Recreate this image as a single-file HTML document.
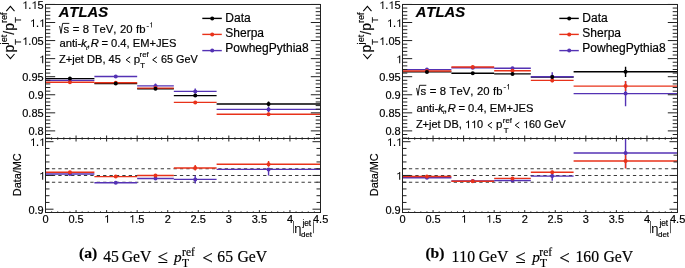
<!DOCTYPE html><html><head><meta charset="utf-8"><style>html,body{margin:0;padding:0;background:#fff;width:685px;height:268px;overflow:hidden}svg{display:block;will-change:transform}text{font-family:"Liberation Sans",sans-serif;font-kerning:none;stroke:#000;stroke-width:0.18px}.sf{font-family:"Liberation Serif",serif}</style></head><body>
<svg width="685" height="268" viewBox="0 0 685 268">
<rect width="685" height="268" fill="#fff"/>
<clipPath id="clipUa"><rect x="45.5" y="4.5" width="275.0" height="134.0"/></clipPath>
<clipPath id="clipLa"><rect x="45.5" y="138.5" width="275.0" height="74.0"/></clipPath>
<line x1="45.50" y1="168.70" x2="320.50" y2="168.70" stroke="#3a3a3a" stroke-width="1.1" stroke-dasharray="3.3 3.1"/>
<line x1="45.50" y1="175.45" x2="320.50" y2="175.45" stroke="#3a3a3a" stroke-width="1.1" stroke-dasharray="3.3 3.1"/>
<line x1="45.50" y1="182.20" x2="320.50" y2="182.20" stroke="#3a3a3a" stroke-width="1.1" stroke-dasharray="3.3 3.1"/>
<g clip-path="url(#clipUa)">
<line x1="45.50" y1="78.60" x2="94.39" y2="78.60" stroke="#000" stroke-width="1.4" />
<line x1="69.94" y1="77.60" x2="69.94" y2="79.60" stroke="#000" stroke-width="1.4" />
<line x1="94.39" y1="83.50" x2="137.17" y2="83.50" stroke="#000" stroke-width="1.4" />
<line x1="115.78" y1="82.50" x2="115.78" y2="84.50" stroke="#000" stroke-width="1.4" />
<line x1="137.17" y1="88.80" x2="173.83" y2="88.80" stroke="#000" stroke-width="1.4" />
<line x1="155.50" y1="87.80" x2="155.50" y2="89.80" stroke="#000" stroke-width="1.4" />
<line x1="173.83" y1="95.60" x2="216.61" y2="95.60" stroke="#000" stroke-width="1.4" />
<line x1="195.22" y1="94.60" x2="195.22" y2="96.60" stroke="#000" stroke-width="1.4" />
<line x1="216.61" y1="104.00" x2="320.50" y2="104.00" stroke="#000" stroke-width="1.4" />
<line x1="268.56" y1="101.50" x2="268.56" y2="106.50" stroke="#000" stroke-width="1.4" />
<line x1="45.50" y1="80.40" x2="94.39" y2="80.40" stroke="#5432b4" stroke-width="1.4" />
<line x1="69.94" y1="79.40" x2="69.94" y2="81.40" stroke="#5432b4" stroke-width="1.4" />
<line x1="94.39" y1="76.50" x2="137.17" y2="76.50" stroke="#5432b4" stroke-width="1.4" />
<line x1="115.78" y1="75.50" x2="115.78" y2="77.50" stroke="#5432b4" stroke-width="1.4" />
<line x1="137.17" y1="85.90" x2="173.83" y2="85.90" stroke="#5432b4" stroke-width="1.4" />
<line x1="155.50" y1="83.40" x2="155.50" y2="86.90" stroke="#5432b4" stroke-width="1.4" />
<line x1="173.83" y1="91.40" x2="216.61" y2="91.40" stroke="#5432b4" stroke-width="1.4" />
<line x1="195.22" y1="88.40" x2="195.22" y2="93.40" stroke="#5432b4" stroke-width="1.4" />
<line x1="216.61" y1="109.40" x2="320.50" y2="109.40" stroke="#5432b4" stroke-width="1.4" />
<line x1="268.56" y1="106.90" x2="268.56" y2="111.90" stroke="#5432b4" stroke-width="1.4" />
<line x1="45.50" y1="82.30" x2="94.39" y2="82.30" stroke="#e8321a" stroke-width="1.4" />
<line x1="69.94" y1="81.30" x2="69.94" y2="83.30" stroke="#e8321a" stroke-width="1.4" />
<line x1="94.39" y1="82.70" x2="137.17" y2="82.70" stroke="#e8321a" stroke-width="1.4" />
<line x1="115.78" y1="81.20" x2="115.78" y2="84.20" stroke="#e8321a" stroke-width="1.4" />
<line x1="137.17" y1="88.10" x2="173.83" y2="88.10" stroke="#e8321a" stroke-width="1.4" />
<line x1="155.50" y1="87.10" x2="155.50" y2="89.10" stroke="#e8321a" stroke-width="1.4" />
<line x1="173.83" y1="102.40" x2="216.61" y2="102.40" stroke="#e8321a" stroke-width="1.4" />
<line x1="195.22" y1="100.90" x2="195.22" y2="103.90" stroke="#e8321a" stroke-width="1.4" />
<line x1="216.61" y1="114.30" x2="320.50" y2="114.30" stroke="#e8321a" stroke-width="1.4" />
<line x1="268.56" y1="112.80" x2="268.56" y2="115.80" stroke="#e8321a" stroke-width="1.4" />
<circle cx="69.94" cy="80.40" r="2.0" fill="#5432b4"/>
<circle cx="115.78" cy="76.50" r="2.0" fill="#5432b4"/>
<circle cx="155.50" cy="85.90" r="2.0" fill="#5432b4"/>
<circle cx="195.22" cy="91.40" r="2.0" fill="#5432b4"/>
<circle cx="268.56" cy="109.40" r="2.0" fill="#5432b4"/>
<circle cx="69.94" cy="82.30" r="2.0" fill="#e8321a"/>
<circle cx="115.78" cy="82.70" r="2.0" fill="#e8321a"/>
<circle cx="155.50" cy="88.10" r="2.0" fill="#e8321a"/>
<circle cx="195.22" cy="102.40" r="2.0" fill="#e8321a"/>
<circle cx="268.56" cy="114.30" r="2.0" fill="#e8321a"/>
<circle cx="69.94" cy="78.60" r="2.0" fill="#000"/>
<circle cx="115.78" cy="83.50" r="2.0" fill="#000"/>
<circle cx="155.50" cy="88.80" r="2.0" fill="#000"/>
<circle cx="195.22" cy="95.60" r="2.0" fill="#000"/>
<circle cx="268.56" cy="104.00" r="2.0" fill="#000"/>
</g>
<g clip-path="url(#clipLa)">
<line x1="45.50" y1="174.00" x2="94.39" y2="174.00" stroke="#5432b4" stroke-width="1.4" />
<line x1="69.94" y1="173.00" x2="69.94" y2="175.00" stroke="#5432b4" stroke-width="1.4" />
<line x1="94.39" y1="182.70" x2="137.17" y2="182.70" stroke="#5432b4" stroke-width="1.4" />
<line x1="115.78" y1="181.70" x2="115.78" y2="183.70" stroke="#5432b4" stroke-width="1.4" />
<line x1="137.17" y1="178.50" x2="173.83" y2="178.50" stroke="#5432b4" stroke-width="1.4" />
<line x1="155.50" y1="177.00" x2="155.50" y2="180.00" stroke="#5432b4" stroke-width="1.4" />
<line x1="173.83" y1="179.40" x2="216.61" y2="179.40" stroke="#5432b4" stroke-width="1.4" />
<line x1="195.22" y1="175.40" x2="195.22" y2="183.40" stroke="#5432b4" stroke-width="1.4" />
<line x1="216.61" y1="169.40" x2="320.50" y2="169.40" stroke="#5432b4" stroke-width="1.4" />
<line x1="268.56" y1="167.90" x2="268.56" y2="175.40" stroke="#5432b4" stroke-width="1.4" />
<line x1="45.50" y1="172.30" x2="94.39" y2="172.30" stroke="#e8321a" stroke-width="1.4" />
<line x1="69.94" y1="171.30" x2="69.94" y2="173.30" stroke="#e8321a" stroke-width="1.4" />
<line x1="94.39" y1="176.60" x2="137.17" y2="176.60" stroke="#e8321a" stroke-width="1.4" />
<line x1="115.78" y1="175.60" x2="115.78" y2="177.60" stroke="#e8321a" stroke-width="1.4" />
<line x1="137.17" y1="175.50" x2="173.83" y2="175.50" stroke="#e8321a" stroke-width="1.4" />
<line x1="155.50" y1="174.00" x2="155.50" y2="177.00" stroke="#e8321a" stroke-width="1.4" />
<line x1="173.83" y1="168.00" x2="216.61" y2="168.00" stroke="#e8321a" stroke-width="1.4" />
<line x1="195.22" y1="165.00" x2="195.22" y2="170.50" stroke="#e8321a" stroke-width="1.4" />
<line x1="216.61" y1="164.30" x2="320.50" y2="164.30" stroke="#e8321a" stroke-width="1.4" />
<line x1="268.56" y1="161.10" x2="268.56" y2="166.80" stroke="#e8321a" stroke-width="1.4" />
<circle cx="69.94" cy="174.00" r="2.0" fill="#5432b4"/>
<circle cx="115.78" cy="182.70" r="2.0" fill="#5432b4"/>
<circle cx="155.50" cy="178.50" r="2.0" fill="#5432b4"/>
<circle cx="195.22" cy="179.40" r="2.0" fill="#5432b4"/>
<circle cx="268.56" cy="169.40" r="2.0" fill="#5432b4"/>
<circle cx="69.94" cy="172.30" r="2.0" fill="#e8321a"/>
<circle cx="115.78" cy="176.60" r="2.0" fill="#e8321a"/>
<circle cx="155.50" cy="175.50" r="2.0" fill="#e8321a"/>
<circle cx="195.22" cy="168.00" r="2.0" fill="#e8321a"/>
<circle cx="268.56" cy="164.30" r="2.0" fill="#e8321a"/>
</g>
<rect x="45.5" y="4.5" width="275.0" height="134.0" fill="none" stroke="#222" stroke-width="1"/>
<rect x="45.5" y="138.5" width="275.0" height="74.0" fill="none" stroke="#222" stroke-width="1"/>
<line x1="45.50" y1="138.12" x2="50.30" y2="138.12" stroke="#222" stroke-width="1" />
<line x1="320.50" y1="138.12" x2="315.70" y2="138.12" stroke="#222" stroke-width="1" />
<line x1="45.50" y1="134.50" x2="50.30" y2="134.50" stroke="#222" stroke-width="1" />
<line x1="320.50" y1="134.50" x2="315.70" y2="134.50" stroke="#222" stroke-width="1" />
<line x1="45.50" y1="130.89" x2="55.20" y2="130.89" stroke="#222" stroke-width="1" />
<line x1="320.50" y1="130.89" x2="310.80" y2="130.89" stroke="#222" stroke-width="1" />
<line x1="45.50" y1="127.28" x2="50.30" y2="127.28" stroke="#222" stroke-width="1" />
<line x1="320.50" y1="127.28" x2="315.70" y2="127.28" stroke="#222" stroke-width="1" />
<line x1="45.50" y1="123.66" x2="50.30" y2="123.66" stroke="#222" stroke-width="1" />
<line x1="320.50" y1="123.66" x2="315.70" y2="123.66" stroke="#222" stroke-width="1" />
<line x1="45.50" y1="120.05" x2="50.30" y2="120.05" stroke="#222" stroke-width="1" />
<line x1="320.50" y1="120.05" x2="315.70" y2="120.05" stroke="#222" stroke-width="1" />
<line x1="45.50" y1="116.44" x2="50.30" y2="116.44" stroke="#222" stroke-width="1" />
<line x1="320.50" y1="116.44" x2="315.70" y2="116.44" stroke="#222" stroke-width="1" />
<line x1="45.50" y1="112.83" x2="55.20" y2="112.83" stroke="#222" stroke-width="1" />
<line x1="320.50" y1="112.83" x2="310.80" y2="112.83" stroke="#222" stroke-width="1" />
<line x1="45.50" y1="109.21" x2="50.30" y2="109.21" stroke="#222" stroke-width="1" />
<line x1="320.50" y1="109.21" x2="315.70" y2="109.21" stroke="#222" stroke-width="1" />
<line x1="45.50" y1="105.60" x2="50.30" y2="105.60" stroke="#222" stroke-width="1" />
<line x1="320.50" y1="105.60" x2="315.70" y2="105.60" stroke="#222" stroke-width="1" />
<line x1="45.50" y1="101.99" x2="50.30" y2="101.99" stroke="#222" stroke-width="1" />
<line x1="320.50" y1="101.99" x2="315.70" y2="101.99" stroke="#222" stroke-width="1" />
<line x1="45.50" y1="98.37" x2="50.30" y2="98.37" stroke="#222" stroke-width="1" />
<line x1="320.50" y1="98.37" x2="315.70" y2="98.37" stroke="#222" stroke-width="1" />
<line x1="45.50" y1="94.76" x2="55.20" y2="94.76" stroke="#222" stroke-width="1" />
<line x1="320.50" y1="94.76" x2="310.80" y2="94.76" stroke="#222" stroke-width="1" />
<line x1="45.50" y1="91.15" x2="50.30" y2="91.15" stroke="#222" stroke-width="1" />
<line x1="320.50" y1="91.15" x2="315.70" y2="91.15" stroke="#222" stroke-width="1" />
<line x1="45.50" y1="87.53" x2="50.30" y2="87.53" stroke="#222" stroke-width="1" />
<line x1="320.50" y1="87.53" x2="315.70" y2="87.53" stroke="#222" stroke-width="1" />
<line x1="45.50" y1="83.92" x2="50.30" y2="83.92" stroke="#222" stroke-width="1" />
<line x1="320.50" y1="83.92" x2="315.70" y2="83.92" stroke="#222" stroke-width="1" />
<line x1="45.50" y1="80.31" x2="50.30" y2="80.31" stroke="#222" stroke-width="1" />
<line x1="320.50" y1="80.31" x2="315.70" y2="80.31" stroke="#222" stroke-width="1" />
<line x1="45.50" y1="76.70" x2="55.20" y2="76.70" stroke="#222" stroke-width="1" />
<line x1="320.50" y1="76.70" x2="310.80" y2="76.70" stroke="#222" stroke-width="1" />
<line x1="45.50" y1="73.08" x2="50.30" y2="73.08" stroke="#222" stroke-width="1" />
<line x1="320.50" y1="73.08" x2="315.70" y2="73.08" stroke="#222" stroke-width="1" />
<line x1="45.50" y1="69.47" x2="50.30" y2="69.47" stroke="#222" stroke-width="1" />
<line x1="320.50" y1="69.47" x2="315.70" y2="69.47" stroke="#222" stroke-width="1" />
<line x1="45.50" y1="65.86" x2="50.30" y2="65.86" stroke="#222" stroke-width="1" />
<line x1="320.50" y1="65.86" x2="315.70" y2="65.86" stroke="#222" stroke-width="1" />
<line x1="45.50" y1="62.24" x2="50.30" y2="62.24" stroke="#222" stroke-width="1" />
<line x1="320.50" y1="62.24" x2="315.70" y2="62.24" stroke="#222" stroke-width="1" />
<line x1="45.50" y1="58.63" x2="55.20" y2="58.63" stroke="#222" stroke-width="1" />
<line x1="320.50" y1="58.63" x2="310.80" y2="58.63" stroke="#222" stroke-width="1" />
<line x1="45.50" y1="55.02" x2="50.30" y2="55.02" stroke="#222" stroke-width="1" />
<line x1="320.50" y1="55.02" x2="315.70" y2="55.02" stroke="#222" stroke-width="1" />
<line x1="45.50" y1="51.40" x2="50.30" y2="51.40" stroke="#222" stroke-width="1" />
<line x1="320.50" y1="51.40" x2="315.70" y2="51.40" stroke="#222" stroke-width="1" />
<line x1="45.50" y1="47.79" x2="50.30" y2="47.79" stroke="#222" stroke-width="1" />
<line x1="320.50" y1="47.79" x2="315.70" y2="47.79" stroke="#222" stroke-width="1" />
<line x1="45.50" y1="44.18" x2="50.30" y2="44.18" stroke="#222" stroke-width="1" />
<line x1="320.50" y1="44.18" x2="315.70" y2="44.18" stroke="#222" stroke-width="1" />
<line x1="45.50" y1="40.57" x2="55.20" y2="40.57" stroke="#222" stroke-width="1" />
<line x1="320.50" y1="40.57" x2="310.80" y2="40.57" stroke="#222" stroke-width="1" />
<line x1="45.50" y1="36.95" x2="50.30" y2="36.95" stroke="#222" stroke-width="1" />
<line x1="320.50" y1="36.95" x2="315.70" y2="36.95" stroke="#222" stroke-width="1" />
<line x1="45.50" y1="33.34" x2="50.30" y2="33.34" stroke="#222" stroke-width="1" />
<line x1="320.50" y1="33.34" x2="315.70" y2="33.34" stroke="#222" stroke-width="1" />
<line x1="45.50" y1="29.73" x2="50.30" y2="29.73" stroke="#222" stroke-width="1" />
<line x1="320.50" y1="29.73" x2="315.70" y2="29.73" stroke="#222" stroke-width="1" />
<line x1="45.50" y1="26.11" x2="50.30" y2="26.11" stroke="#222" stroke-width="1" />
<line x1="320.50" y1="26.11" x2="315.70" y2="26.11" stroke="#222" stroke-width="1" />
<line x1="45.50" y1="22.50" x2="55.20" y2="22.50" stroke="#222" stroke-width="1" />
<line x1="320.50" y1="22.50" x2="310.80" y2="22.50" stroke="#222" stroke-width="1" />
<line x1="45.50" y1="18.89" x2="50.30" y2="18.89" stroke="#222" stroke-width="1" />
<line x1="320.50" y1="18.89" x2="315.70" y2="18.89" stroke="#222" stroke-width="1" />
<line x1="45.50" y1="15.27" x2="50.30" y2="15.27" stroke="#222" stroke-width="1" />
<line x1="320.50" y1="15.27" x2="315.70" y2="15.27" stroke="#222" stroke-width="1" />
<line x1="45.50" y1="11.66" x2="50.30" y2="11.66" stroke="#222" stroke-width="1" />
<line x1="320.50" y1="11.66" x2="315.70" y2="11.66" stroke="#222" stroke-width="1" />
<line x1="45.50" y1="8.05" x2="50.30" y2="8.05" stroke="#222" stroke-width="1" />
<line x1="320.50" y1="8.05" x2="315.70" y2="8.05" stroke="#222" stroke-width="1" />
<line x1="45.50" y1="4.44" x2="55.20" y2="4.44" stroke="#222" stroke-width="1" />
<line x1="320.50" y1="4.44" x2="310.80" y2="4.44" stroke="#222" stroke-width="1" />
<text x="28.39" y="135.39" font-size="11" >0.8</text>
<text x="22.25" y="117.33" font-size="11" >0.85</text>
<text x="28.43" y="99.26" font-size="11" >0.9</text>
<text x="22.25" y="81.20" font-size="11" >0.95</text>
<path d="M0.282,0 L0.373,0 L0.373,0.703 L0.312,0.703 C0.285,0.640 0.215,0.585 0.109,0.560 L0.109,0.482 C0.180,0.497 0.240,0.525 0.282,0.560 Z" transform="translate(39.10,63.13) scale(11,-11)" fill="#000"/>
<path d="M0.282,0 L0.373,0 L0.373,0.703 L0.312,0.703 C0.285,0.640 0.215,0.585 0.109,0.560 L0.109,0.482 C0.180,0.497 0.240,0.525 0.282,0.560 Z" transform="translate(22.25,45.07) scale(11,-11)" fill="#000"/>
<text x="28.37" y="45.07" font-size="11" >.05</text>
<path d="M0.282,0 L0.373,0 L0.373,0.703 L0.312,0.703 C0.285,0.640 0.215,0.585 0.109,0.560 L0.109,0.482 C0.180,0.497 0.240,0.525 0.282,0.560 Z" transform="translate(29.92,27.00) scale(11,-11)" fill="#000"/>
<text x="36.04" y="27.00" font-size="11" >.</text>
<path d="M0.282,0 L0.373,0 L0.373,0.703 L0.312,0.703 C0.285,0.640 0.215,0.585 0.109,0.560 L0.109,0.482 C0.180,0.497 0.240,0.525 0.282,0.560 Z" transform="translate(39.10,27.00) scale(11,-11)" fill="#000"/>
<path d="M0.282,0 L0.373,0 L0.373,0.703 L0.312,0.703 C0.285,0.640 0.215,0.585 0.109,0.560 L0.109,0.482 C0.180,0.497 0.240,0.525 0.282,0.560 Z" transform="translate(22.25,8.94) scale(11,-11)" fill="#000"/>
<text x="28.37" y="8.94" font-size="11" >.</text>
<path d="M0.282,0 L0.373,0 L0.373,0.703 L0.312,0.703 C0.285,0.640 0.215,0.585 0.109,0.560 L0.109,0.482 C0.180,0.497 0.240,0.525 0.282,0.560 Z" transform="translate(31.43,8.94) scale(11,-11)" fill="#000"/>
<text x="37.54" y="8.94" font-size="11" >5</text>
<line x1="45.50" y1="209.20" x2="53.50" y2="209.20" stroke="#222" stroke-width="1" />
<line x1="320.50" y1="209.20" x2="312.50" y2="209.20" stroke="#222" stroke-width="1" />
<line x1="45.50" y1="202.45" x2="49.50" y2="202.45" stroke="#222" stroke-width="1" />
<line x1="320.50" y1="202.45" x2="316.50" y2="202.45" stroke="#222" stroke-width="1" />
<line x1="45.50" y1="195.70" x2="49.50" y2="195.70" stroke="#222" stroke-width="1" />
<line x1="320.50" y1="195.70" x2="316.50" y2="195.70" stroke="#222" stroke-width="1" />
<line x1="45.50" y1="188.95" x2="49.50" y2="188.95" stroke="#222" stroke-width="1" />
<line x1="320.50" y1="188.95" x2="316.50" y2="188.95" stroke="#222" stroke-width="1" />
<line x1="45.50" y1="182.20" x2="49.50" y2="182.20" stroke="#222" stroke-width="1" />
<line x1="320.50" y1="182.20" x2="316.50" y2="182.20" stroke="#222" stroke-width="1" />
<line x1="45.50" y1="175.45" x2="53.50" y2="175.45" stroke="#222" stroke-width="1" />
<line x1="320.50" y1="175.45" x2="312.50" y2="175.45" stroke="#222" stroke-width="1" />
<line x1="45.50" y1="168.70" x2="49.50" y2="168.70" stroke="#222" stroke-width="1" />
<line x1="320.50" y1="168.70" x2="316.50" y2="168.70" stroke="#222" stroke-width="1" />
<line x1="45.50" y1="161.95" x2="49.50" y2="161.95" stroke="#222" stroke-width="1" />
<line x1="320.50" y1="161.95" x2="316.50" y2="161.95" stroke="#222" stroke-width="1" />
<line x1="45.50" y1="155.20" x2="49.50" y2="155.20" stroke="#222" stroke-width="1" />
<line x1="320.50" y1="155.20" x2="316.50" y2="155.20" stroke="#222" stroke-width="1" />
<line x1="45.50" y1="148.45" x2="49.50" y2="148.45" stroke="#222" stroke-width="1" />
<line x1="320.50" y1="148.45" x2="316.50" y2="148.45" stroke="#222" stroke-width="1" />
<line x1="45.50" y1="141.70" x2="53.50" y2="141.70" stroke="#222" stroke-width="1" />
<line x1="320.50" y1="141.70" x2="312.50" y2="141.70" stroke="#222" stroke-width="1" />
<path d="M0.282,0 L0.373,0 L0.373,0.703 L0.312,0.703 C0.285,0.640 0.215,0.585 0.109,0.560 L0.109,0.482 C0.180,0.497 0.240,0.525 0.282,0.560 Z" transform="translate(29.92,146.00) scale(11,-11)" fill="#000"/>
<text x="36.04" y="146.00" font-size="11" >.</text>
<path d="M0.282,0 L0.373,0 L0.373,0.703 L0.312,0.703 C0.285,0.640 0.215,0.585 0.109,0.560 L0.109,0.482 C0.180,0.497 0.240,0.525 0.282,0.560 Z" transform="translate(39.10,146.00) scale(11,-11)" fill="#000"/>
<path d="M0.282,0 L0.373,0 L0.373,0.703 L0.312,0.703 C0.285,0.640 0.215,0.585 0.109,0.560 L0.109,0.482 C0.180,0.497 0.240,0.525 0.282,0.560 Z" transform="translate(39.10,179.75) scale(11,-11)" fill="#000"/>
<text x="28.43" y="213.50" font-size="11" >0.9</text>
<line x1="45.50" y1="135.50" x2="45.50" y2="141.50" stroke="#222" stroke-width="1" />
<line x1="45.50" y1="212.50" x2="45.50" y2="210.10" stroke="#222" stroke-width="1" />
<line x1="51.61" y1="137.30" x2="51.61" y2="139.70" stroke="#222" stroke-width="1" />
<line x1="51.61" y1="212.50" x2="51.61" y2="211.40" stroke="#222" stroke-width="1" />
<line x1="57.72" y1="137.30" x2="57.72" y2="139.70" stroke="#222" stroke-width="1" />
<line x1="57.72" y1="212.50" x2="57.72" y2="211.40" stroke="#222" stroke-width="1" />
<line x1="63.83" y1="137.30" x2="63.83" y2="139.70" stroke="#222" stroke-width="1" />
<line x1="63.83" y1="212.50" x2="63.83" y2="211.40" stroke="#222" stroke-width="1" />
<line x1="69.94" y1="137.30" x2="69.94" y2="139.70" stroke="#222" stroke-width="1" />
<line x1="69.94" y1="212.50" x2="69.94" y2="211.40" stroke="#222" stroke-width="1" />
<line x1="76.06" y1="135.50" x2="76.06" y2="141.50" stroke="#222" stroke-width="1" />
<line x1="76.06" y1="212.50" x2="76.06" y2="210.10" stroke="#222" stroke-width="1" />
<line x1="82.17" y1="137.30" x2="82.17" y2="139.70" stroke="#222" stroke-width="1" />
<line x1="82.17" y1="212.50" x2="82.17" y2="211.40" stroke="#222" stroke-width="1" />
<line x1="88.28" y1="137.30" x2="88.28" y2="139.70" stroke="#222" stroke-width="1" />
<line x1="88.28" y1="212.50" x2="88.28" y2="211.40" stroke="#222" stroke-width="1" />
<line x1="94.39" y1="137.30" x2="94.39" y2="139.70" stroke="#222" stroke-width="1" />
<line x1="94.39" y1="212.50" x2="94.39" y2="211.40" stroke="#222" stroke-width="1" />
<line x1="100.50" y1="137.30" x2="100.50" y2="139.70" stroke="#222" stroke-width="1" />
<line x1="100.50" y1="212.50" x2="100.50" y2="211.40" stroke="#222" stroke-width="1" />
<line x1="106.61" y1="135.50" x2="106.61" y2="141.50" stroke="#222" stroke-width="1" />
<line x1="106.61" y1="212.50" x2="106.61" y2="210.10" stroke="#222" stroke-width="1" />
<line x1="112.72" y1="137.30" x2="112.72" y2="139.70" stroke="#222" stroke-width="1" />
<line x1="112.72" y1="212.50" x2="112.72" y2="211.40" stroke="#222" stroke-width="1" />
<line x1="118.83" y1="137.30" x2="118.83" y2="139.70" stroke="#222" stroke-width="1" />
<line x1="118.83" y1="212.50" x2="118.83" y2="211.40" stroke="#222" stroke-width="1" />
<line x1="124.94" y1="137.30" x2="124.94" y2="139.70" stroke="#222" stroke-width="1" />
<line x1="124.94" y1="212.50" x2="124.94" y2="211.40" stroke="#222" stroke-width="1" />
<line x1="131.06" y1="137.30" x2="131.06" y2="139.70" stroke="#222" stroke-width="1" />
<line x1="131.06" y1="212.50" x2="131.06" y2="211.40" stroke="#222" stroke-width="1" />
<line x1="137.17" y1="135.50" x2="137.17" y2="141.50" stroke="#222" stroke-width="1" />
<line x1="137.17" y1="212.50" x2="137.17" y2="210.10" stroke="#222" stroke-width="1" />
<line x1="143.28" y1="137.30" x2="143.28" y2="139.70" stroke="#222" stroke-width="1" />
<line x1="143.28" y1="212.50" x2="143.28" y2="211.40" stroke="#222" stroke-width="1" />
<line x1="149.39" y1="137.30" x2="149.39" y2="139.70" stroke="#222" stroke-width="1" />
<line x1="149.39" y1="212.50" x2="149.39" y2="211.40" stroke="#222" stroke-width="1" />
<line x1="155.50" y1="137.30" x2="155.50" y2="139.70" stroke="#222" stroke-width="1" />
<line x1="155.50" y1="212.50" x2="155.50" y2="211.40" stroke="#222" stroke-width="1" />
<line x1="161.61" y1="137.30" x2="161.61" y2="139.70" stroke="#222" stroke-width="1" />
<line x1="161.61" y1="212.50" x2="161.61" y2="211.40" stroke="#222" stroke-width="1" />
<line x1="167.72" y1="135.50" x2="167.72" y2="141.50" stroke="#222" stroke-width="1" />
<line x1="167.72" y1="212.50" x2="167.72" y2="210.10" stroke="#222" stroke-width="1" />
<line x1="173.83" y1="137.30" x2="173.83" y2="139.70" stroke="#222" stroke-width="1" />
<line x1="173.83" y1="212.50" x2="173.83" y2="211.40" stroke="#222" stroke-width="1" />
<line x1="179.94" y1="137.30" x2="179.94" y2="139.70" stroke="#222" stroke-width="1" />
<line x1="179.94" y1="212.50" x2="179.94" y2="211.40" stroke="#222" stroke-width="1" />
<line x1="186.06" y1="137.30" x2="186.06" y2="139.70" stroke="#222" stroke-width="1" />
<line x1="186.06" y1="212.50" x2="186.06" y2="211.40" stroke="#222" stroke-width="1" />
<line x1="192.17" y1="137.30" x2="192.17" y2="139.70" stroke="#222" stroke-width="1" />
<line x1="192.17" y1="212.50" x2="192.17" y2="211.40" stroke="#222" stroke-width="1" />
<line x1="198.28" y1="135.50" x2="198.28" y2="141.50" stroke="#222" stroke-width="1" />
<line x1="198.28" y1="212.50" x2="198.28" y2="210.10" stroke="#222" stroke-width="1" />
<line x1="204.39" y1="137.30" x2="204.39" y2="139.70" stroke="#222" stroke-width="1" />
<line x1="204.39" y1="212.50" x2="204.39" y2="211.40" stroke="#222" stroke-width="1" />
<line x1="210.50" y1="137.30" x2="210.50" y2="139.70" stroke="#222" stroke-width="1" />
<line x1="210.50" y1="212.50" x2="210.50" y2="211.40" stroke="#222" stroke-width="1" />
<line x1="216.61" y1="137.30" x2="216.61" y2="139.70" stroke="#222" stroke-width="1" />
<line x1="216.61" y1="212.50" x2="216.61" y2="211.40" stroke="#222" stroke-width="1" />
<line x1="222.72" y1="137.30" x2="222.72" y2="139.70" stroke="#222" stroke-width="1" />
<line x1="222.72" y1="212.50" x2="222.72" y2="211.40" stroke="#222" stroke-width="1" />
<line x1="228.83" y1="135.50" x2="228.83" y2="141.50" stroke="#222" stroke-width="1" />
<line x1="228.83" y1="212.50" x2="228.83" y2="210.10" stroke="#222" stroke-width="1" />
<line x1="234.94" y1="137.30" x2="234.94" y2="139.70" stroke="#222" stroke-width="1" />
<line x1="234.94" y1="212.50" x2="234.94" y2="211.40" stroke="#222" stroke-width="1" />
<line x1="241.06" y1="137.30" x2="241.06" y2="139.70" stroke="#222" stroke-width="1" />
<line x1="241.06" y1="212.50" x2="241.06" y2="211.40" stroke="#222" stroke-width="1" />
<line x1="247.17" y1="137.30" x2="247.17" y2="139.70" stroke="#222" stroke-width="1" />
<line x1="247.17" y1="212.50" x2="247.17" y2="211.40" stroke="#222" stroke-width="1" />
<line x1="253.28" y1="137.30" x2="253.28" y2="139.70" stroke="#222" stroke-width="1" />
<line x1="253.28" y1="212.50" x2="253.28" y2="211.40" stroke="#222" stroke-width="1" />
<line x1="259.39" y1="135.50" x2="259.39" y2="141.50" stroke="#222" stroke-width="1" />
<line x1="259.39" y1="212.50" x2="259.39" y2="210.10" stroke="#222" stroke-width="1" />
<line x1="265.50" y1="137.30" x2="265.50" y2="139.70" stroke="#222" stroke-width="1" />
<line x1="265.50" y1="212.50" x2="265.50" y2="211.40" stroke="#222" stroke-width="1" />
<line x1="271.61" y1="137.30" x2="271.61" y2="139.70" stroke="#222" stroke-width="1" />
<line x1="271.61" y1="212.50" x2="271.61" y2="211.40" stroke="#222" stroke-width="1" />
<line x1="277.72" y1="137.30" x2="277.72" y2="139.70" stroke="#222" stroke-width="1" />
<line x1="277.72" y1="212.50" x2="277.72" y2="211.40" stroke="#222" stroke-width="1" />
<line x1="283.83" y1="137.30" x2="283.83" y2="139.70" stroke="#222" stroke-width="1" />
<line x1="283.83" y1="212.50" x2="283.83" y2="211.40" stroke="#222" stroke-width="1" />
<line x1="289.94" y1="135.50" x2="289.94" y2="141.50" stroke="#222" stroke-width="1" />
<line x1="289.94" y1="212.50" x2="289.94" y2="210.10" stroke="#222" stroke-width="1" />
<line x1="296.06" y1="137.30" x2="296.06" y2="139.70" stroke="#222" stroke-width="1" />
<line x1="296.06" y1="212.50" x2="296.06" y2="211.40" stroke="#222" stroke-width="1" />
<line x1="302.17" y1="137.30" x2="302.17" y2="139.70" stroke="#222" stroke-width="1" />
<line x1="302.17" y1="212.50" x2="302.17" y2="211.40" stroke="#222" stroke-width="1" />
<line x1="308.28" y1="137.30" x2="308.28" y2="139.70" stroke="#222" stroke-width="1" />
<line x1="308.28" y1="212.50" x2="308.28" y2="211.40" stroke="#222" stroke-width="1" />
<line x1="314.39" y1="137.30" x2="314.39" y2="139.70" stroke="#222" stroke-width="1" />
<line x1="314.39" y1="212.50" x2="314.39" y2="211.40" stroke="#222" stroke-width="1" />
<line x1="320.50" y1="135.50" x2="320.50" y2="141.50" stroke="#222" stroke-width="1" />
<line x1="320.50" y1="212.50" x2="320.50" y2="210.10" stroke="#222" stroke-width="1" />
<text x="42.44" y="222.70" font-size="11" >0</text>
<text x="68.43" y="222.70" font-size="11" >0.5</text>
<path d="M0.282,0 L0.373,0 L0.373,0.703 L0.312,0.703 C0.285,0.640 0.215,0.585 0.109,0.560 L0.109,0.482 C0.180,0.497 0.240,0.525 0.282,0.560 Z" transform="translate(103.96,222.70) scale(11,-11)" fill="#000"/>
<path d="M0.282,0 L0.373,0 L0.373,0.703 L0.312,0.703 C0.285,0.640 0.215,0.585 0.109,0.560 L0.109,0.482 C0.180,0.497 0.240,0.525 0.282,0.560 Z" transform="translate(129.15,222.70) scale(11,-11)" fill="#000"/>
<text x="135.27" y="222.70" font-size="11" >.5</text>
<text x="164.66" y="222.70" font-size="11" >2</text>
<text x="190.59" y="222.70" font-size="11" >2.5</text>
<text x="225.81" y="222.70" font-size="11" >3</text>
<text x="251.76" y="222.70" font-size="11" >3.5</text>
<text x="286.92" y="222.70" font-size="11" >4</text>
<text x="312.96" y="222.70" font-size="11" >4.5</text>
<line x1="293.50" y1="221.00" x2="293.50" y2="233.20" stroke="#333" stroke-width="0.8" />
<text x="294.22" y="233.00" font-size="13" text-anchor="start" style="stroke-width:0">&#951;</text>
<text x="302.40" y="226.30" font-size="8.3" text-anchor="start" >jet</text>
<text x="300.96" y="236.70" font-size="8" text-anchor="start" >det</text>
<line x1="313.50" y1="221.40" x2="313.50" y2="233.20" stroke="#333" stroke-width="0.8" />
<g transform="translate(13.70,59) rotate(-90)">
<path d="M5.0,-7.4 L0.3,-3.3 L5.0,0.8" fill="none" stroke="#000" stroke-width="1.05"/>
<text x="6.61" y="0" font-size="13.9">p</text>
<text x="14.6" y="-7.0" font-size="9.3">jet</text>
<text x="14.3" y="7.1" font-size="9.3">T</text>
<text x="24.2" y="0" font-size="13.9">/</text>
<text x="28.31" y="0" font-size="13.9">p</text>
<text x="35.9" y="-6.6" font-size="9.2">ref</text>
<text x="36.3" y="7.1" font-size="9.3">T</text>
<path d="M47.9,-7.4 L52.6,-3.3 L47.9,0.8" fill="none" stroke="#000" stroke-width="1.05"/>
</g>
<g transform="translate(20.80,174.8) rotate(-90)"><text x="0" y="0" font-size="10.85" text-anchor="middle">Data/MC</text></g>
<text x="58.70" y="17.4" font-size="14.8" font-weight="bold" font-style="italic">ATLAS</text>
<path d="M59.10,26.80 L59.70,26.40 L61.00,33.40 L62.60,23.40 L69.30,23.40" fill="none" stroke="#000" stroke-width="0.9" />
<text x="63.48" y="32.80" font-size="11.3" word-spacing="0.4">s = 8 TeV, 20 fb</text>
<text x="146.60" y="27.50" font-size="7.6" >-</text>
<path d="M0.282,0 L0.373,0 L0.373,0.703 L0.312,0.703 C0.285,0.640 0.215,0.585 0.109,0.560 L0.109,0.482 C0.180,0.497 0.240,0.525 0.282,0.560 Z" transform="translate(149.13,27.50) scale(7.6,-7.6)" fill="#000"/>
<text x="59.43" y="47.10" font-size="11.25">anti-</text>
<text x="80.90" y="47.10" font-size="11.25" font-style="italic">k</text>
<text x="86.00" y="49.70" font-size="5.6" font-style="italic">t</text>
<text x="86.90" y="47.10" font-size="11.25">,</text>
<text x="90.86" y="47.10" font-size="11.25" font-style="italic">R</text>
<text x="101.45" y="47.10" font-size="11.15">= 0.4, EM+JES</text>
<text x="58.94" y="62.90" font-size="11.1" >Z+jet DB, 45</text>
<line x1="202.30" y1="18.40" x2="221.80" y2="18.40" stroke="#000" stroke-width="1.4" />
<circle cx="212.20" cy="18.40" r="2.0" fill="#000"/>
<text x="225.32" y="22.00" font-size="12" text-anchor="start" >Data</text>
<line x1="202.30" y1="34.40" x2="221.80" y2="34.40" stroke="#e8321a" stroke-width="1.4" />
<circle cx="212.20" cy="34.40" r="2.0" fill="#e8321a"/>
<text x="225.32" y="36.60" font-size="12" text-anchor="start" >Sherpa</text>
<line x1="202.30" y1="50.60" x2="221.80" y2="50.60" stroke="#5432b4" stroke-width="1.4" />
<circle cx="212.20" cy="50.60" r="2.0" fill="#5432b4"/>
<text x="225.32" y="52.40" font-size="12" text-anchor="start" >PowhegPythia8</text>
<clipPath id="clipUb"><rect x="402.5" y="4.5" width="275.0" height="134.0"/></clipPath>
<clipPath id="clipLb"><rect x="402.5" y="138.5" width="275.0" height="74.0"/></clipPath>
<line x1="402.50" y1="168.70" x2="677.50" y2="168.70" stroke="#3a3a3a" stroke-width="1.1" stroke-dasharray="3.3 3.1"/>
<line x1="402.50" y1="175.45" x2="677.50" y2="175.45" stroke="#3a3a3a" stroke-width="1.1" stroke-dasharray="3.3 3.1"/>
<line x1="402.50" y1="182.20" x2="677.50" y2="182.20" stroke="#3a3a3a" stroke-width="1.1" stroke-dasharray="3.3 3.1"/>
<g clip-path="url(#clipUb)">
<line x1="402.50" y1="71.90" x2="451.39" y2="71.90" stroke="#000" stroke-width="1.4" />
<line x1="426.94" y1="70.90" x2="426.94" y2="72.90" stroke="#000" stroke-width="1.4" />
<line x1="451.39" y1="73.20" x2="494.17" y2="73.20" stroke="#000" stroke-width="1.4" />
<line x1="472.78" y1="72.20" x2="472.78" y2="74.20" stroke="#000" stroke-width="1.4" />
<line x1="494.17" y1="73.90" x2="530.83" y2="73.90" stroke="#000" stroke-width="1.4" />
<line x1="512.50" y1="72.90" x2="512.50" y2="74.90" stroke="#000" stroke-width="1.4" />
<line x1="530.83" y1="77.10" x2="573.61" y2="77.10" stroke="#000" stroke-width="1.4" />
<line x1="552.22" y1="75.60" x2="552.22" y2="78.60" stroke="#000" stroke-width="1.4" />
<line x1="573.61" y1="71.80" x2="677.50" y2="71.80" stroke="#000" stroke-width="1.4" />
<line x1="625.56" y1="66.70" x2="625.56" y2="76.90" stroke="#000" stroke-width="1.4" />
<line x1="402.50" y1="69.60" x2="451.39" y2="69.60" stroke="#5432b4" stroke-width="1.4" />
<line x1="426.94" y1="68.60" x2="426.94" y2="70.60" stroke="#5432b4" stroke-width="1.4" />
<line x1="451.39" y1="67.80" x2="494.17" y2="67.80" stroke="#5432b4" stroke-width="1.4" />
<line x1="472.78" y1="66.80" x2="472.78" y2="68.80" stroke="#5432b4" stroke-width="1.4" />
<line x1="494.17" y1="68.30" x2="530.83" y2="68.30" stroke="#5432b4" stroke-width="1.4" />
<line x1="512.50" y1="67.30" x2="512.50" y2="69.30" stroke="#5432b4" stroke-width="1.4" />
<line x1="530.83" y1="76.70" x2="573.61" y2="76.70" stroke="#5432b4" stroke-width="1.4" />
<line x1="552.22" y1="72.30" x2="552.22" y2="81.10" stroke="#5432b4" stroke-width="1.4" />
<line x1="573.61" y1="93.60" x2="677.50" y2="93.60" stroke="#5432b4" stroke-width="1.4" />
<line x1="625.56" y1="80.90" x2="625.56" y2="106.30" stroke="#5432b4" stroke-width="1.4" />
<line x1="402.50" y1="71.00" x2="451.39" y2="71.00" stroke="#e8321a" stroke-width="1.4" />
<line x1="426.94" y1="70.00" x2="426.94" y2="72.00" stroke="#e8321a" stroke-width="1.4" />
<line x1="451.39" y1="67.00" x2="494.17" y2="67.00" stroke="#e8321a" stroke-width="1.4" />
<line x1="472.78" y1="66.00" x2="472.78" y2="68.00" stroke="#e8321a" stroke-width="1.4" />
<line x1="494.17" y1="70.80" x2="530.83" y2="70.80" stroke="#e8321a" stroke-width="1.4" />
<line x1="512.50" y1="69.80" x2="512.50" y2="71.80" stroke="#e8321a" stroke-width="1.4" />
<line x1="530.83" y1="80.40" x2="573.61" y2="80.40" stroke="#e8321a" stroke-width="1.4" />
<line x1="552.22" y1="78.50" x2="552.22" y2="82.30" stroke="#e8321a" stroke-width="1.4" />
<line x1="573.61" y1="86.10" x2="677.50" y2="86.10" stroke="#e8321a" stroke-width="1.4" />
<line x1="625.56" y1="81.10" x2="625.56" y2="91.10" stroke="#e8321a" stroke-width="1.4" />
<circle cx="426.94" cy="69.60" r="2.0" fill="#5432b4"/>
<circle cx="472.78" cy="67.80" r="2.0" fill="#5432b4"/>
<circle cx="512.50" cy="68.30" r="2.0" fill="#5432b4"/>
<circle cx="552.22" cy="76.70" r="2.0" fill="#5432b4"/>
<circle cx="625.56" cy="93.60" r="2.0" fill="#5432b4"/>
<circle cx="426.94" cy="71.00" r="2.0" fill="#e8321a"/>
<circle cx="472.78" cy="67.00" r="2.0" fill="#e8321a"/>
<circle cx="512.50" cy="70.80" r="2.0" fill="#e8321a"/>
<circle cx="552.22" cy="80.40" r="2.0" fill="#e8321a"/>
<circle cx="625.56" cy="86.10" r="2.0" fill="#e8321a"/>
<circle cx="426.94" cy="71.90" r="2.0" fill="#000"/>
<circle cx="472.78" cy="73.20" r="2.0" fill="#000"/>
<circle cx="512.50" cy="73.90" r="2.0" fill="#000"/>
<circle cx="552.22" cy="77.10" r="2.0" fill="#000"/>
<circle cx="625.56" cy="71.80" r="2.0" fill="#000"/>
</g>
<g clip-path="url(#clipLb)">
<line x1="402.50" y1="177.70" x2="451.39" y2="177.70" stroke="#5432b4" stroke-width="1.4" />
<line x1="426.94" y1="176.70" x2="426.94" y2="178.70" stroke="#5432b4" stroke-width="1.4" />
<line x1="451.39" y1="181.00" x2="494.17" y2="181.00" stroke="#5432b4" stroke-width="1.4" />
<line x1="472.78" y1="180.00" x2="472.78" y2="182.00" stroke="#5432b4" stroke-width="1.4" />
<line x1="494.17" y1="180.50" x2="530.83" y2="180.50" stroke="#5432b4" stroke-width="1.4" />
<line x1="512.50" y1="179.50" x2="512.50" y2="181.50" stroke="#5432b4" stroke-width="1.4" />
<line x1="530.83" y1="176.10" x2="573.61" y2="176.10" stroke="#5432b4" stroke-width="1.4" />
<line x1="552.22" y1="171.50" x2="552.22" y2="180.70" stroke="#5432b4" stroke-width="1.4" />
<line x1="573.61" y1="153.00" x2="677.50" y2="153.00" stroke="#5432b4" stroke-width="1.4" />
<line x1="625.56" y1="138.00" x2="625.56" y2="168.00" stroke="#5432b4" stroke-width="1.4" />
<line x1="402.50" y1="176.50" x2="451.39" y2="176.50" stroke="#e8321a" stroke-width="1.4" />
<line x1="426.94" y1="175.50" x2="426.94" y2="177.50" stroke="#e8321a" stroke-width="1.4" />
<line x1="451.39" y1="181.30" x2="494.17" y2="181.30" stroke="#e8321a" stroke-width="1.4" />
<line x1="472.78" y1="180.30" x2="472.78" y2="182.30" stroke="#e8321a" stroke-width="1.4" />
<line x1="494.17" y1="178.40" x2="530.83" y2="178.40" stroke="#e8321a" stroke-width="1.4" />
<line x1="512.50" y1="177.40" x2="512.50" y2="179.40" stroke="#e8321a" stroke-width="1.4" />
<line x1="530.83" y1="172.30" x2="573.61" y2="172.30" stroke="#e8321a" stroke-width="1.4" />
<line x1="552.22" y1="170.80" x2="552.22" y2="173.80" stroke="#e8321a" stroke-width="1.4" />
<line x1="573.61" y1="161.00" x2="677.50" y2="161.00" stroke="#e8321a" stroke-width="1.4" />
<line x1="625.56" y1="154.70" x2="625.56" y2="168.50" stroke="#e8321a" stroke-width="1.4" />
<circle cx="426.94" cy="177.70" r="2.0" fill="#5432b4"/>
<circle cx="472.78" cy="181.00" r="2.0" fill="#5432b4"/>
<circle cx="512.50" cy="180.50" r="2.0" fill="#5432b4"/>
<circle cx="552.22" cy="176.10" r="2.0" fill="#5432b4"/>
<circle cx="625.56" cy="153.00" r="2.0" fill="#5432b4"/>
<circle cx="426.94" cy="176.50" r="2.0" fill="#e8321a"/>
<circle cx="472.78" cy="181.30" r="2.0" fill="#e8321a"/>
<circle cx="512.50" cy="178.40" r="2.0" fill="#e8321a"/>
<circle cx="552.22" cy="172.30" r="2.0" fill="#e8321a"/>
<circle cx="625.56" cy="161.00" r="2.0" fill="#e8321a"/>
</g>
<rect x="402.5" y="4.5" width="275.0" height="134.0" fill="none" stroke="#222" stroke-width="1"/>
<rect x="402.5" y="138.5" width="275.0" height="74.0" fill="none" stroke="#222" stroke-width="1"/>
<line x1="402.50" y1="138.12" x2="407.30" y2="138.12" stroke="#222" stroke-width="1" />
<line x1="677.50" y1="138.12" x2="672.70" y2="138.12" stroke="#222" stroke-width="1" />
<line x1="402.50" y1="134.50" x2="407.30" y2="134.50" stroke="#222" stroke-width="1" />
<line x1="677.50" y1="134.50" x2="672.70" y2="134.50" stroke="#222" stroke-width="1" />
<line x1="402.50" y1="130.89" x2="412.20" y2="130.89" stroke="#222" stroke-width="1" />
<line x1="677.50" y1="130.89" x2="667.80" y2="130.89" stroke="#222" stroke-width="1" />
<line x1="402.50" y1="127.28" x2="407.30" y2="127.28" stroke="#222" stroke-width="1" />
<line x1="677.50" y1="127.28" x2="672.70" y2="127.28" stroke="#222" stroke-width="1" />
<line x1="402.50" y1="123.66" x2="407.30" y2="123.66" stroke="#222" stroke-width="1" />
<line x1="677.50" y1="123.66" x2="672.70" y2="123.66" stroke="#222" stroke-width="1" />
<line x1="402.50" y1="120.05" x2="407.30" y2="120.05" stroke="#222" stroke-width="1" />
<line x1="677.50" y1="120.05" x2="672.70" y2="120.05" stroke="#222" stroke-width="1" />
<line x1="402.50" y1="116.44" x2="407.30" y2="116.44" stroke="#222" stroke-width="1" />
<line x1="677.50" y1="116.44" x2="672.70" y2="116.44" stroke="#222" stroke-width="1" />
<line x1="402.50" y1="112.83" x2="412.20" y2="112.83" stroke="#222" stroke-width="1" />
<line x1="677.50" y1="112.83" x2="667.80" y2="112.83" stroke="#222" stroke-width="1" />
<line x1="402.50" y1="109.21" x2="407.30" y2="109.21" stroke="#222" stroke-width="1" />
<line x1="677.50" y1="109.21" x2="672.70" y2="109.21" stroke="#222" stroke-width="1" />
<line x1="402.50" y1="105.60" x2="407.30" y2="105.60" stroke="#222" stroke-width="1" />
<line x1="677.50" y1="105.60" x2="672.70" y2="105.60" stroke="#222" stroke-width="1" />
<line x1="402.50" y1="101.99" x2="407.30" y2="101.99" stroke="#222" stroke-width="1" />
<line x1="677.50" y1="101.99" x2="672.70" y2="101.99" stroke="#222" stroke-width="1" />
<line x1="402.50" y1="98.37" x2="407.30" y2="98.37" stroke="#222" stroke-width="1" />
<line x1="677.50" y1="98.37" x2="672.70" y2="98.37" stroke="#222" stroke-width="1" />
<line x1="402.50" y1="94.76" x2="412.20" y2="94.76" stroke="#222" stroke-width="1" />
<line x1="677.50" y1="94.76" x2="667.80" y2="94.76" stroke="#222" stroke-width="1" />
<line x1="402.50" y1="91.15" x2="407.30" y2="91.15" stroke="#222" stroke-width="1" />
<line x1="677.50" y1="91.15" x2="672.70" y2="91.15" stroke="#222" stroke-width="1" />
<line x1="402.50" y1="87.53" x2="407.30" y2="87.53" stroke="#222" stroke-width="1" />
<line x1="677.50" y1="87.53" x2="672.70" y2="87.53" stroke="#222" stroke-width="1" />
<line x1="402.50" y1="83.92" x2="407.30" y2="83.92" stroke="#222" stroke-width="1" />
<line x1="677.50" y1="83.92" x2="672.70" y2="83.92" stroke="#222" stroke-width="1" />
<line x1="402.50" y1="80.31" x2="407.30" y2="80.31" stroke="#222" stroke-width="1" />
<line x1="677.50" y1="80.31" x2="672.70" y2="80.31" stroke="#222" stroke-width="1" />
<line x1="402.50" y1="76.70" x2="412.20" y2="76.70" stroke="#222" stroke-width="1" />
<line x1="677.50" y1="76.70" x2="667.80" y2="76.70" stroke="#222" stroke-width="1" />
<line x1="402.50" y1="73.08" x2="407.30" y2="73.08" stroke="#222" stroke-width="1" />
<line x1="677.50" y1="73.08" x2="672.70" y2="73.08" stroke="#222" stroke-width="1" />
<line x1="402.50" y1="69.47" x2="407.30" y2="69.47" stroke="#222" stroke-width="1" />
<line x1="677.50" y1="69.47" x2="672.70" y2="69.47" stroke="#222" stroke-width="1" />
<line x1="402.50" y1="65.86" x2="407.30" y2="65.86" stroke="#222" stroke-width="1" />
<line x1="677.50" y1="65.86" x2="672.70" y2="65.86" stroke="#222" stroke-width="1" />
<line x1="402.50" y1="62.24" x2="407.30" y2="62.24" stroke="#222" stroke-width="1" />
<line x1="677.50" y1="62.24" x2="672.70" y2="62.24" stroke="#222" stroke-width="1" />
<line x1="402.50" y1="58.63" x2="412.20" y2="58.63" stroke="#222" stroke-width="1" />
<line x1="677.50" y1="58.63" x2="667.80" y2="58.63" stroke="#222" stroke-width="1" />
<line x1="402.50" y1="55.02" x2="407.30" y2="55.02" stroke="#222" stroke-width="1" />
<line x1="677.50" y1="55.02" x2="672.70" y2="55.02" stroke="#222" stroke-width="1" />
<line x1="402.50" y1="51.40" x2="407.30" y2="51.40" stroke="#222" stroke-width="1" />
<line x1="677.50" y1="51.40" x2="672.70" y2="51.40" stroke="#222" stroke-width="1" />
<line x1="402.50" y1="47.79" x2="407.30" y2="47.79" stroke="#222" stroke-width="1" />
<line x1="677.50" y1="47.79" x2="672.70" y2="47.79" stroke="#222" stroke-width="1" />
<line x1="402.50" y1="44.18" x2="407.30" y2="44.18" stroke="#222" stroke-width="1" />
<line x1="677.50" y1="44.18" x2="672.70" y2="44.18" stroke="#222" stroke-width="1" />
<line x1="402.50" y1="40.57" x2="412.20" y2="40.57" stroke="#222" stroke-width="1" />
<line x1="677.50" y1="40.57" x2="667.80" y2="40.57" stroke="#222" stroke-width="1" />
<line x1="402.50" y1="36.95" x2="407.30" y2="36.95" stroke="#222" stroke-width="1" />
<line x1="677.50" y1="36.95" x2="672.70" y2="36.95" stroke="#222" stroke-width="1" />
<line x1="402.50" y1="33.34" x2="407.30" y2="33.34" stroke="#222" stroke-width="1" />
<line x1="677.50" y1="33.34" x2="672.70" y2="33.34" stroke="#222" stroke-width="1" />
<line x1="402.50" y1="29.73" x2="407.30" y2="29.73" stroke="#222" stroke-width="1" />
<line x1="677.50" y1="29.73" x2="672.70" y2="29.73" stroke="#222" stroke-width="1" />
<line x1="402.50" y1="26.11" x2="407.30" y2="26.11" stroke="#222" stroke-width="1" />
<line x1="677.50" y1="26.11" x2="672.70" y2="26.11" stroke="#222" stroke-width="1" />
<line x1="402.50" y1="22.50" x2="412.20" y2="22.50" stroke="#222" stroke-width="1" />
<line x1="677.50" y1="22.50" x2="667.80" y2="22.50" stroke="#222" stroke-width="1" />
<line x1="402.50" y1="18.89" x2="407.30" y2="18.89" stroke="#222" stroke-width="1" />
<line x1="677.50" y1="18.89" x2="672.70" y2="18.89" stroke="#222" stroke-width="1" />
<line x1="402.50" y1="15.27" x2="407.30" y2="15.27" stroke="#222" stroke-width="1" />
<line x1="677.50" y1="15.27" x2="672.70" y2="15.27" stroke="#222" stroke-width="1" />
<line x1="402.50" y1="11.66" x2="407.30" y2="11.66" stroke="#222" stroke-width="1" />
<line x1="677.50" y1="11.66" x2="672.70" y2="11.66" stroke="#222" stroke-width="1" />
<line x1="402.50" y1="8.05" x2="407.30" y2="8.05" stroke="#222" stroke-width="1" />
<line x1="677.50" y1="8.05" x2="672.70" y2="8.05" stroke="#222" stroke-width="1" />
<line x1="402.50" y1="4.44" x2="412.20" y2="4.44" stroke="#222" stroke-width="1" />
<line x1="677.50" y1="4.44" x2="667.80" y2="4.44" stroke="#222" stroke-width="1" />
<text x="385.39" y="135.39" font-size="11" >0.8</text>
<text x="379.25" y="117.33" font-size="11" >0.85</text>
<text x="385.43" y="99.26" font-size="11" >0.9</text>
<text x="379.25" y="81.20" font-size="11" >0.95</text>
<path d="M0.282,0 L0.373,0 L0.373,0.703 L0.312,0.703 C0.285,0.640 0.215,0.585 0.109,0.560 L0.109,0.482 C0.180,0.497 0.240,0.525 0.282,0.560 Z" transform="translate(396.10,63.13) scale(11,-11)" fill="#000"/>
<path d="M0.282,0 L0.373,0 L0.373,0.703 L0.312,0.703 C0.285,0.640 0.215,0.585 0.109,0.560 L0.109,0.482 C0.180,0.497 0.240,0.525 0.282,0.560 Z" transform="translate(379.25,45.07) scale(11,-11)" fill="#000"/>
<text x="385.37" y="45.07" font-size="11" >.05</text>
<path d="M0.282,0 L0.373,0 L0.373,0.703 L0.312,0.703 C0.285,0.640 0.215,0.585 0.109,0.560 L0.109,0.482 C0.180,0.497 0.240,0.525 0.282,0.560 Z" transform="translate(386.92,27.00) scale(11,-11)" fill="#000"/>
<text x="393.04" y="27.00" font-size="11" >.</text>
<path d="M0.282,0 L0.373,0 L0.373,0.703 L0.312,0.703 C0.285,0.640 0.215,0.585 0.109,0.560 L0.109,0.482 C0.180,0.497 0.240,0.525 0.282,0.560 Z" transform="translate(396.10,27.00) scale(11,-11)" fill="#000"/>
<path d="M0.282,0 L0.373,0 L0.373,0.703 L0.312,0.703 C0.285,0.640 0.215,0.585 0.109,0.560 L0.109,0.482 C0.180,0.497 0.240,0.525 0.282,0.560 Z" transform="translate(379.25,8.94) scale(11,-11)" fill="#000"/>
<text x="385.37" y="8.94" font-size="11" >.</text>
<path d="M0.282,0 L0.373,0 L0.373,0.703 L0.312,0.703 C0.285,0.640 0.215,0.585 0.109,0.560 L0.109,0.482 C0.180,0.497 0.240,0.525 0.282,0.560 Z" transform="translate(388.43,8.94) scale(11,-11)" fill="#000"/>
<text x="394.54" y="8.94" font-size="11" >5</text>
<line x1="402.50" y1="209.20" x2="410.50" y2="209.20" stroke="#222" stroke-width="1" />
<line x1="677.50" y1="209.20" x2="669.50" y2="209.20" stroke="#222" stroke-width="1" />
<line x1="402.50" y1="202.45" x2="406.50" y2="202.45" stroke="#222" stroke-width="1" />
<line x1="677.50" y1="202.45" x2="673.50" y2="202.45" stroke="#222" stroke-width="1" />
<line x1="402.50" y1="195.70" x2="406.50" y2="195.70" stroke="#222" stroke-width="1" />
<line x1="677.50" y1="195.70" x2="673.50" y2="195.70" stroke="#222" stroke-width="1" />
<line x1="402.50" y1="188.95" x2="406.50" y2="188.95" stroke="#222" stroke-width="1" />
<line x1="677.50" y1="188.95" x2="673.50" y2="188.95" stroke="#222" stroke-width="1" />
<line x1="402.50" y1="182.20" x2="406.50" y2="182.20" stroke="#222" stroke-width="1" />
<line x1="677.50" y1="182.20" x2="673.50" y2="182.20" stroke="#222" stroke-width="1" />
<line x1="402.50" y1="175.45" x2="410.50" y2="175.45" stroke="#222" stroke-width="1" />
<line x1="677.50" y1="175.45" x2="669.50" y2="175.45" stroke="#222" stroke-width="1" />
<line x1="402.50" y1="168.70" x2="406.50" y2="168.70" stroke="#222" stroke-width="1" />
<line x1="677.50" y1="168.70" x2="673.50" y2="168.70" stroke="#222" stroke-width="1" />
<line x1="402.50" y1="161.95" x2="406.50" y2="161.95" stroke="#222" stroke-width="1" />
<line x1="677.50" y1="161.95" x2="673.50" y2="161.95" stroke="#222" stroke-width="1" />
<line x1="402.50" y1="155.20" x2="406.50" y2="155.20" stroke="#222" stroke-width="1" />
<line x1="677.50" y1="155.20" x2="673.50" y2="155.20" stroke="#222" stroke-width="1" />
<line x1="402.50" y1="148.45" x2="406.50" y2="148.45" stroke="#222" stroke-width="1" />
<line x1="677.50" y1="148.45" x2="673.50" y2="148.45" stroke="#222" stroke-width="1" />
<line x1="402.50" y1="141.70" x2="410.50" y2="141.70" stroke="#222" stroke-width="1" />
<line x1="677.50" y1="141.70" x2="669.50" y2="141.70" stroke="#222" stroke-width="1" />
<path d="M0.282,0 L0.373,0 L0.373,0.703 L0.312,0.703 C0.285,0.640 0.215,0.585 0.109,0.560 L0.109,0.482 C0.180,0.497 0.240,0.525 0.282,0.560 Z" transform="translate(386.92,146.00) scale(11,-11)" fill="#000"/>
<text x="393.04" y="146.00" font-size="11" >.</text>
<path d="M0.282,0 L0.373,0 L0.373,0.703 L0.312,0.703 C0.285,0.640 0.215,0.585 0.109,0.560 L0.109,0.482 C0.180,0.497 0.240,0.525 0.282,0.560 Z" transform="translate(396.10,146.00) scale(11,-11)" fill="#000"/>
<path d="M0.282,0 L0.373,0 L0.373,0.703 L0.312,0.703 C0.285,0.640 0.215,0.585 0.109,0.560 L0.109,0.482 C0.180,0.497 0.240,0.525 0.282,0.560 Z" transform="translate(396.10,179.75) scale(11,-11)" fill="#000"/>
<text x="385.43" y="213.50" font-size="11" >0.9</text>
<line x1="402.50" y1="135.50" x2="402.50" y2="141.50" stroke="#222" stroke-width="1" />
<line x1="402.50" y1="212.50" x2="402.50" y2="210.10" stroke="#222" stroke-width="1" />
<line x1="408.61" y1="137.30" x2="408.61" y2="139.70" stroke="#222" stroke-width="1" />
<line x1="408.61" y1="212.50" x2="408.61" y2="211.40" stroke="#222" stroke-width="1" />
<line x1="414.72" y1="137.30" x2="414.72" y2="139.70" stroke="#222" stroke-width="1" />
<line x1="414.72" y1="212.50" x2="414.72" y2="211.40" stroke="#222" stroke-width="1" />
<line x1="420.83" y1="137.30" x2="420.83" y2="139.70" stroke="#222" stroke-width="1" />
<line x1="420.83" y1="212.50" x2="420.83" y2="211.40" stroke="#222" stroke-width="1" />
<line x1="426.94" y1="137.30" x2="426.94" y2="139.70" stroke="#222" stroke-width="1" />
<line x1="426.94" y1="212.50" x2="426.94" y2="211.40" stroke="#222" stroke-width="1" />
<line x1="433.06" y1="135.50" x2="433.06" y2="141.50" stroke="#222" stroke-width="1" />
<line x1="433.06" y1="212.50" x2="433.06" y2="210.10" stroke="#222" stroke-width="1" />
<line x1="439.17" y1="137.30" x2="439.17" y2="139.70" stroke="#222" stroke-width="1" />
<line x1="439.17" y1="212.50" x2="439.17" y2="211.40" stroke="#222" stroke-width="1" />
<line x1="445.28" y1="137.30" x2="445.28" y2="139.70" stroke="#222" stroke-width="1" />
<line x1="445.28" y1="212.50" x2="445.28" y2="211.40" stroke="#222" stroke-width="1" />
<line x1="451.39" y1="137.30" x2="451.39" y2="139.70" stroke="#222" stroke-width="1" />
<line x1="451.39" y1="212.50" x2="451.39" y2="211.40" stroke="#222" stroke-width="1" />
<line x1="457.50" y1="137.30" x2="457.50" y2="139.70" stroke="#222" stroke-width="1" />
<line x1="457.50" y1="212.50" x2="457.50" y2="211.40" stroke="#222" stroke-width="1" />
<line x1="463.61" y1="135.50" x2="463.61" y2="141.50" stroke="#222" stroke-width="1" />
<line x1="463.61" y1="212.50" x2="463.61" y2="210.10" stroke="#222" stroke-width="1" />
<line x1="469.72" y1="137.30" x2="469.72" y2="139.70" stroke="#222" stroke-width="1" />
<line x1="469.72" y1="212.50" x2="469.72" y2="211.40" stroke="#222" stroke-width="1" />
<line x1="475.83" y1="137.30" x2="475.83" y2="139.70" stroke="#222" stroke-width="1" />
<line x1="475.83" y1="212.50" x2="475.83" y2="211.40" stroke="#222" stroke-width="1" />
<line x1="481.94" y1="137.30" x2="481.94" y2="139.70" stroke="#222" stroke-width="1" />
<line x1="481.94" y1="212.50" x2="481.94" y2="211.40" stroke="#222" stroke-width="1" />
<line x1="488.06" y1="137.30" x2="488.06" y2="139.70" stroke="#222" stroke-width="1" />
<line x1="488.06" y1="212.50" x2="488.06" y2="211.40" stroke="#222" stroke-width="1" />
<line x1="494.17" y1="135.50" x2="494.17" y2="141.50" stroke="#222" stroke-width="1" />
<line x1="494.17" y1="212.50" x2="494.17" y2="210.10" stroke="#222" stroke-width="1" />
<line x1="500.28" y1="137.30" x2="500.28" y2="139.70" stroke="#222" stroke-width="1" />
<line x1="500.28" y1="212.50" x2="500.28" y2="211.40" stroke="#222" stroke-width="1" />
<line x1="506.39" y1="137.30" x2="506.39" y2="139.70" stroke="#222" stroke-width="1" />
<line x1="506.39" y1="212.50" x2="506.39" y2="211.40" stroke="#222" stroke-width="1" />
<line x1="512.50" y1="137.30" x2="512.50" y2="139.70" stroke="#222" stroke-width="1" />
<line x1="512.50" y1="212.50" x2="512.50" y2="211.40" stroke="#222" stroke-width="1" />
<line x1="518.61" y1="137.30" x2="518.61" y2="139.70" stroke="#222" stroke-width="1" />
<line x1="518.61" y1="212.50" x2="518.61" y2="211.40" stroke="#222" stroke-width="1" />
<line x1="524.72" y1="135.50" x2="524.72" y2="141.50" stroke="#222" stroke-width="1" />
<line x1="524.72" y1="212.50" x2="524.72" y2="210.10" stroke="#222" stroke-width="1" />
<line x1="530.83" y1="137.30" x2="530.83" y2="139.70" stroke="#222" stroke-width="1" />
<line x1="530.83" y1="212.50" x2="530.83" y2="211.40" stroke="#222" stroke-width="1" />
<line x1="536.94" y1="137.30" x2="536.94" y2="139.70" stroke="#222" stroke-width="1" />
<line x1="536.94" y1="212.50" x2="536.94" y2="211.40" stroke="#222" stroke-width="1" />
<line x1="543.06" y1="137.30" x2="543.06" y2="139.70" stroke="#222" stroke-width="1" />
<line x1="543.06" y1="212.50" x2="543.06" y2="211.40" stroke="#222" stroke-width="1" />
<line x1="549.17" y1="137.30" x2="549.17" y2="139.70" stroke="#222" stroke-width="1" />
<line x1="549.17" y1="212.50" x2="549.17" y2="211.40" stroke="#222" stroke-width="1" />
<line x1="555.28" y1="135.50" x2="555.28" y2="141.50" stroke="#222" stroke-width="1" />
<line x1="555.28" y1="212.50" x2="555.28" y2="210.10" stroke="#222" stroke-width="1" />
<line x1="561.39" y1="137.30" x2="561.39" y2="139.70" stroke="#222" stroke-width="1" />
<line x1="561.39" y1="212.50" x2="561.39" y2="211.40" stroke="#222" stroke-width="1" />
<line x1="567.50" y1="137.30" x2="567.50" y2="139.70" stroke="#222" stroke-width="1" />
<line x1="567.50" y1="212.50" x2="567.50" y2="211.40" stroke="#222" stroke-width="1" />
<line x1="573.61" y1="137.30" x2="573.61" y2="139.70" stroke="#222" stroke-width="1" />
<line x1="573.61" y1="212.50" x2="573.61" y2="211.40" stroke="#222" stroke-width="1" />
<line x1="579.72" y1="137.30" x2="579.72" y2="139.70" stroke="#222" stroke-width="1" />
<line x1="579.72" y1="212.50" x2="579.72" y2="211.40" stroke="#222" stroke-width="1" />
<line x1="585.83" y1="135.50" x2="585.83" y2="141.50" stroke="#222" stroke-width="1" />
<line x1="585.83" y1="212.50" x2="585.83" y2="210.10" stroke="#222" stroke-width="1" />
<line x1="591.94" y1="137.30" x2="591.94" y2="139.70" stroke="#222" stroke-width="1" />
<line x1="591.94" y1="212.50" x2="591.94" y2="211.40" stroke="#222" stroke-width="1" />
<line x1="598.06" y1="137.30" x2="598.06" y2="139.70" stroke="#222" stroke-width="1" />
<line x1="598.06" y1="212.50" x2="598.06" y2="211.40" stroke="#222" stroke-width="1" />
<line x1="604.17" y1="137.30" x2="604.17" y2="139.70" stroke="#222" stroke-width="1" />
<line x1="604.17" y1="212.50" x2="604.17" y2="211.40" stroke="#222" stroke-width="1" />
<line x1="610.28" y1="137.30" x2="610.28" y2="139.70" stroke="#222" stroke-width="1" />
<line x1="610.28" y1="212.50" x2="610.28" y2="211.40" stroke="#222" stroke-width="1" />
<line x1="616.39" y1="135.50" x2="616.39" y2="141.50" stroke="#222" stroke-width="1" />
<line x1="616.39" y1="212.50" x2="616.39" y2="210.10" stroke="#222" stroke-width="1" />
<line x1="622.50" y1="137.30" x2="622.50" y2="139.70" stroke="#222" stroke-width="1" />
<line x1="622.50" y1="212.50" x2="622.50" y2="211.40" stroke="#222" stroke-width="1" />
<line x1="628.61" y1="137.30" x2="628.61" y2="139.70" stroke="#222" stroke-width="1" />
<line x1="628.61" y1="212.50" x2="628.61" y2="211.40" stroke="#222" stroke-width="1" />
<line x1="634.72" y1="137.30" x2="634.72" y2="139.70" stroke="#222" stroke-width="1" />
<line x1="634.72" y1="212.50" x2="634.72" y2="211.40" stroke="#222" stroke-width="1" />
<line x1="640.83" y1="137.30" x2="640.83" y2="139.70" stroke="#222" stroke-width="1" />
<line x1="640.83" y1="212.50" x2="640.83" y2="211.40" stroke="#222" stroke-width="1" />
<line x1="646.94" y1="135.50" x2="646.94" y2="141.50" stroke="#222" stroke-width="1" />
<line x1="646.94" y1="212.50" x2="646.94" y2="210.10" stroke="#222" stroke-width="1" />
<line x1="653.06" y1="137.30" x2="653.06" y2="139.70" stroke="#222" stroke-width="1" />
<line x1="653.06" y1="212.50" x2="653.06" y2="211.40" stroke="#222" stroke-width="1" />
<line x1="659.17" y1="137.30" x2="659.17" y2="139.70" stroke="#222" stroke-width="1" />
<line x1="659.17" y1="212.50" x2="659.17" y2="211.40" stroke="#222" stroke-width="1" />
<line x1="665.28" y1="137.30" x2="665.28" y2="139.70" stroke="#222" stroke-width="1" />
<line x1="665.28" y1="212.50" x2="665.28" y2="211.40" stroke="#222" stroke-width="1" />
<line x1="671.39" y1="137.30" x2="671.39" y2="139.70" stroke="#222" stroke-width="1" />
<line x1="671.39" y1="212.50" x2="671.39" y2="211.40" stroke="#222" stroke-width="1" />
<line x1="677.50" y1="135.50" x2="677.50" y2="141.50" stroke="#222" stroke-width="1" />
<line x1="677.50" y1="212.50" x2="677.50" y2="210.10" stroke="#222" stroke-width="1" />
<text x="399.44" y="222.70" font-size="11" >0</text>
<text x="425.43" y="222.70" font-size="11" >0.5</text>
<path d="M0.282,0 L0.373,0 L0.373,0.703 L0.312,0.703 C0.285,0.640 0.215,0.585 0.109,0.560 L0.109,0.482 C0.180,0.497 0.240,0.525 0.282,0.560 Z" transform="translate(460.96,222.70) scale(11,-11)" fill="#000"/>
<path d="M0.282,0 L0.373,0 L0.373,0.703 L0.312,0.703 C0.285,0.640 0.215,0.585 0.109,0.560 L0.109,0.482 C0.180,0.497 0.240,0.525 0.282,0.560 Z" transform="translate(486.15,222.70) scale(11,-11)" fill="#000"/>
<text x="492.27" y="222.70" font-size="11" >.5</text>
<text x="521.66" y="222.70" font-size="11" >2</text>
<text x="547.59" y="222.70" font-size="11" >2.5</text>
<text x="582.81" y="222.70" font-size="11" >3</text>
<text x="608.76" y="222.70" font-size="11" >3.5</text>
<text x="643.92" y="222.70" font-size="11" >4</text>
<text x="669.96" y="222.70" font-size="11" >4.5</text>
<line x1="650.50" y1="221.00" x2="650.50" y2="233.20" stroke="#333" stroke-width="0.8" />
<text x="651.22" y="233.00" font-size="13" text-anchor="start" style="stroke-width:0">&#951;</text>
<text x="659.40" y="226.30" font-size="8.3" text-anchor="start" >jet</text>
<text x="657.96" y="236.70" font-size="8" text-anchor="start" >det</text>
<line x1="670.50" y1="221.40" x2="670.50" y2="233.20" stroke="#333" stroke-width="0.8" />
<g transform="translate(370.70,59) rotate(-90)">
<path d="M5.0,-7.4 L0.3,-3.3 L5.0,0.8" fill="none" stroke="#000" stroke-width="1.05"/>
<text x="6.61" y="0" font-size="13.9">p</text>
<text x="14.6" y="-7.0" font-size="9.3">jet</text>
<text x="14.3" y="7.1" font-size="9.3">T</text>
<text x="24.2" y="0" font-size="13.9">/</text>
<text x="28.31" y="0" font-size="13.9">p</text>
<text x="35.9" y="-6.6" font-size="9.2">ref</text>
<text x="36.3" y="7.1" font-size="9.3">T</text>
<path d="M47.9,-7.4 L52.6,-3.3 L47.9,0.8" fill="none" stroke="#000" stroke-width="1.05"/>
</g>
<g transform="translate(377.80,174.8) rotate(-90)"><text x="0" y="0" font-size="10.85" text-anchor="middle">Data/MC</text></g>
<text x="415.70" y="17.4" font-size="14.8" font-weight="bold" font-style="italic">ATLAS</text>
<path d="M416.10,88.70 L416.70,88.30 L418.00,95.30 L419.60,85.30 L426.30,85.30" fill="none" stroke="#000" stroke-width="0.9" />
<text x="420.48" y="94.70" font-size="11.3" word-spacing="0.4">s = 8 TeV, 20 fb</text>
<text x="503.60" y="89.40" font-size="7.6" >-</text>
<path d="M0.282,0 L0.373,0 L0.373,0.703 L0.312,0.703 C0.285,0.640 0.215,0.585 0.109,0.560 L0.109,0.482 C0.180,0.497 0.240,0.525 0.282,0.560 Z" transform="translate(506.13,89.40) scale(7.6,-7.6)" fill="#000"/>
<text x="416.43" y="111.70" font-size="11.25">anti-</text>
<text x="437.90" y="111.70" font-size="11.25" font-style="italic">k</text>
<text x="443.00" y="114.30" font-size="5.6" font-style="italic">t</text>
<text x="443.90" y="111.70" font-size="11.25">,</text>
<text x="447.86" y="111.70" font-size="11.25" font-style="italic">R</text>
<text x="458.45" y="111.70" font-size="11.15">= 0.4, EM+JES</text>
<text x="415.95" y="128.30" font-size="10.95" >Z+jet DB, </text>
<path d="M0.282,0 L0.373,0 L0.373,0.703 L0.312,0.703 C0.285,0.640 0.215,0.585 0.109,0.560 L0.109,0.482 C0.180,0.497 0.240,0.525 0.282,0.560 Z" transform="translate(464.94,128.30) scale(10.95,-10.95)" fill="#000"/>
<path d="M0.282,0 L0.373,0 L0.373,0.703 L0.312,0.703 C0.285,0.640 0.215,0.585 0.109,0.560 L0.109,0.482 C0.180,0.497 0.240,0.525 0.282,0.560 Z" transform="translate(471.03,128.30) scale(10.95,-10.95)" fill="#000"/>
<text x="477.12" y="128.30" font-size="10.95" >0</text>
<line x1="559.30" y1="18.40" x2="578.80" y2="18.40" stroke="#000" stroke-width="1.4" />
<circle cx="569.20" cy="18.40" r="2.0" fill="#000"/>
<text x="582.32" y="22.00" font-size="12" text-anchor="start" >Data</text>
<line x1="559.30" y1="34.40" x2="578.80" y2="34.40" stroke="#e8321a" stroke-width="1.4" />
<circle cx="569.20" cy="34.40" r="2.0" fill="#e8321a"/>
<text x="582.32" y="36.60" font-size="12" text-anchor="start" >Sherpa</text>
<line x1="559.30" y1="50.60" x2="578.80" y2="50.60" stroke="#5432b4" stroke-width="1.4" />
<circle cx="569.20" cy="50.60" r="2.0" fill="#5432b4"/>
<text x="582.32" y="52.40" font-size="12" text-anchor="start" >PowhegPythia8</text>
<path d="M130.20,56.90 L126.10,59.80 L130.20,62.70" fill="none" stroke="#000" stroke-width="1.0" />
<path d="M156.80,56.90 L152.70,59.80 L156.80,62.70" fill="none" stroke="#000" stroke-width="1.0" />
<text x="133.86" y="62.90" font-size="11.5">p</text>
<text x="139.57" y="57.30" font-size="7.8">ref</text>
<text x="140.22" y="67.50" font-size="7.8">T</text>
<text x="161.03" y="62.90" font-size="10.85" >65 GeV</text>
<path d="M492.00,122.30 L487.90,125.20 L492.00,128.10" fill="none" stroke="#000" stroke-width="1.0" />
<path d="M519.30,122.30 L515.20,125.20 L519.30,128.10" fill="none" stroke="#000" stroke-width="1.0" />
<text x="496.06" y="128.30" font-size="11.5">p</text>
<text x="502.87" y="122.70" font-size="7.8">ref</text>
<text x="503.82" y="132.90" font-size="7.8">T</text>
<path d="M0.282,0 L0.373,0 L0.373,0.703 L0.312,0.703 C0.285,0.640 0.215,0.585 0.109,0.560 L0.109,0.482 C0.180,0.497 0.240,0.525 0.282,0.560 Z" transform="translate(523.02,128.30) scale(10.85,-10.85)" fill="#000"/>
<text x="529.05" y="128.30" font-size="10.85" >60 GeV</text>
<text class="sf" x="79.01" y="258.3" font-size="15.6" font-weight="bold">(a)</text>
<text class="sf" x="103.19" y="261.6" font-size="15.7">45</text>
<text class="sf" x="121.76" y="261.6" font-size="15.7">GeV</text>
<text class="sf" x="157.42" y="263.1" font-size="18.7">&#8804;</text>
<text class="sf" x="173.89" y="261.6" font-size="15.2" font-style="italic">p</text>
<text class="sf" x="182.07" y="255.50000000000003" font-size="11.5">ref</text>
<text class="sf" x="182.09" y="267.20000000000005" font-size="11.5">T</text>
<text class="sf" x="202.16" y="263.90000000000003" font-size="18.7">&lt;</text>
<text class="sf" x="217.32" y="261.6" font-size="15.7">65</text>
<text class="sf" x="237.46" y="261.6" font-size="15.7">GeV</text>
<text class="sf" x="425.41" y="258.3" font-size="15.6" font-weight="bold">(b)</text>
<text class="sf" x="451.52" y="261.6" font-size="15.7">110</text>
<text class="sf" x="478.76" y="261.6" font-size="15.7">GeV</text>
<text class="sf" x="515.22" y="263.1" font-size="18.7">&#8804;</text>
<text class="sf" x="532.29" y="261.6" font-size="15.2" font-style="italic">p</text>
<text class="sf" x="539.37" y="255.50000000000003" font-size="11.5">ref</text>
<text class="sf" x="539.89" y="267.20000000000005" font-size="11.5">T</text>
<text class="sf" x="559.37" y="263.90000000000003" font-size="18.7">&lt;</text>
<text class="sf" x="575.52" y="261.6" font-size="15.7">160</text>
<text class="sf" x="603.46" y="261.6" font-size="15.7">GeV</text>
</svg></body></html>
